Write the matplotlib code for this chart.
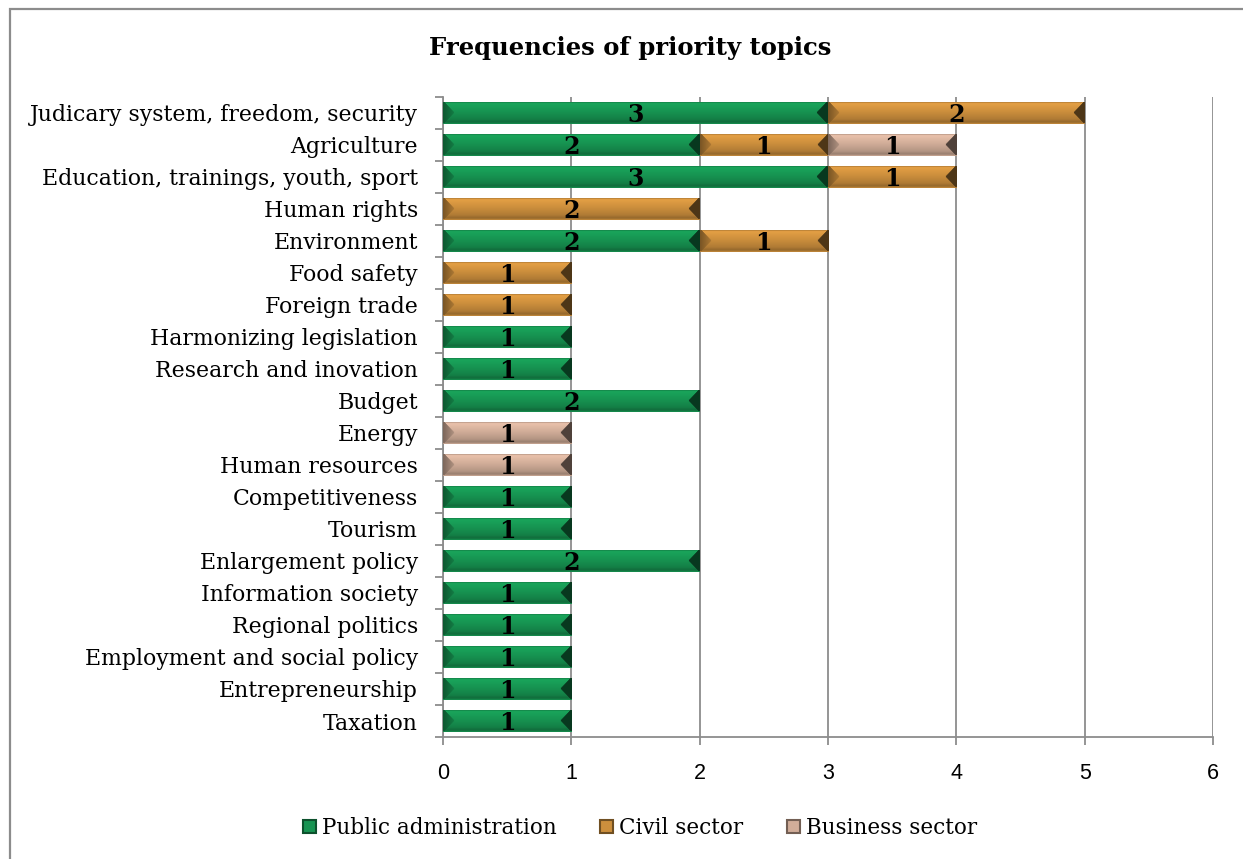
import numpy as np
import matplotlib.pyplot as plt
from matplotlib.patches import Patch, Rectangle

topics = ["Judicary system, freedom, security", "Agriculture",
          "Education, trainings, youth, sport", "Human rights", "Environment",
          "Food safety", "Foreign trade", "Harmonizing legislation",
          "Research and inovation", "Budget", "Energy", "Human resources",
          "Competitiveness", "Tourism", "Enlargement policy",
          "Information society", "Regional politics",
          "Employment and social policy", "Entrepreneurship", "Taxation"]
public_admin = [3, 2, 3, 0, 2, 0, 0, 1, 1, 2, 0, 0, 1, 1, 2, 1, 1, 1, 1, 1]
civil_sector = [2, 1, 1, 2, 1, 1, 1, 0, 0, 0, 0, 0, 0, 0, 0, 0, 0, 0, 0, 0]
business_sector = [0, 1, 0, 0, 0, 0, 0, 0, 0, 0, 1, 1, 0, 0, 0, 0, 0, 0, 0, 0]
series_names = ["Public administration", "Civil sector", "Business sector"]
series_colors = [(0.09, 0.58, 0.32), (0.80, 0.56, 0.24), (0.82, 0.68, 0.60)]

serif = "DejaVu Serif"
W_PX, H_PX = 1243, 859

fig = plt.figure(figsize=(W_PX / 100, H_PX / 100), dpi=100)
ax = fig.add_axes([443 / W_PX, 1 - 737 / H_PX, 770 / W_PX, 640 / H_PX])

# outer chart frame
fig.patches.append(Rectangle((10 / W_PX, -0.1), 1.2, 1 - 9 / H_PX + 0.1,
                             transform=fig.transFigure, fill=False,
                             edgecolor="#8c8c8c", linewidth=1.6))


def bevel_image(color, width_px, height_px):
    # shaded bar: soft vertical gradient and dark chevrons at both ends
    nrow = max(int(height_px), 4)
    ncol = max(int(width_px), 4)
    yy, xx = np.mgrid[0:nrow, 0:ncol].astype(float)
    t = yy / (nrow - 1)
    shade = np.interp(t, [0, 0.08, 0.2, 0.5, 0.8, 0.93, 1.0],
                      [0.72, 1.12, 1.08, 0.98, 0.86, 0.72, 0.92])
    bev = 11.0
    half = (nrow - 1) / 2
    tri = bev * (1 - np.abs(yy - half) / half)
    shade = np.where(xx < tri, 0.6 + 0.25 * (xx / bev), shade)
    shade = np.where((ncol - 1 - xx) < tri, 0.38, shade)
    img = np.clip(np.array(color)[None, None, :] * shade[:, :, None], 0, 1)
    return img


y = np.arange(len(topics))[::-1]
bar_h = 0.7
left = np.zeros(len(topics))
for vals, name, col in zip([public_admin, civil_sector, business_sector],
                           series_names, series_colors):
    vals = np.array(vals, dtype=float)
    bars = ax.barh(y, vals, height=bar_h, left=left, color=col,
                   linewidth=0, zorder=2, label=name)
    for patch, v in zip(bars.patches, vals):
        if v <= 0:
            continue
        x0, y0 = patch.get_x(), patch.get_y()
        w, h = patch.get_width(), patch.get_height()
        img = bevel_image(col, w * 128.3, h * 32)
        im = ax.imshow(img, extent=[x0, x0 + w, y0, y0 + h], aspect="auto",
                       interpolation="bilinear", zorder=3)
        im.set_clip_path(patch)
        ax.text(x0 + w / 2, y0 + h / 2 - 0.07, f"{int(v)}", ha="center",
                va="center", fontsize=17, fontweight="bold", family=serif,
                zorder=4)
    left += vals

ax.set_xlim(0, 6)
ax.set_ylim(-0.5, len(topics) - 0.5)
ax.set_xticks(range(7))
ax.set_yticks(y)
ax.set_yticklabels(topics, family=serif, fontsize=15.8)
ax.set_yticks(np.arange(-0.5, len(topics)), minor=True)
ax.tick_params(axis="y", which="major", length=0, pad=18)
ax.tick_params(axis="y", which="minor", length=6, color="#8c8c8c", width=1.3)
ax.tick_params(axis="x", length=6, color="#8c8c8c", width=1.3, pad=13,
               labelsize=15.5)
for lab in ax.get_xticklabels():
    lab.set_family("Liberation Sans")
ax.grid(axis="x", color="#8c8c8c", linewidth=1.3, zorder=0)
ax.set_axisbelow(True)
for side in ["top", "right"]:
    ax.spines[side].set_visible(False)
for side in ["left", "bottom"]:
    ax.spines[side].set_color("#8c8c8c")
    ax.spines[side].set_linewidth(1.3)

fig.text(630 / W_PX, 1 - 48 / H_PX, "Frequencies of priority topics",
         ha="center", va="center", fontsize=17.5, fontweight="bold",
         family=serif)

handles = [Patch(facecolor=c, edgecolor=tuple(v * 0.55 for v in c), linewidth=1.5)
           for c in series_colors]
fig.legend(handles, series_names, loc="center", ncol=3,
           bbox_to_anchor=(640 / W_PX, 1 - 828 / H_PX), frameon=False,
           prop={"family": serif, "size": 15.5}, handlelength=0.6,
           handleheight=0.6, handletextpad=0.3, columnspacing=2.0)

fig.savefig("out.png", dpi=100)
